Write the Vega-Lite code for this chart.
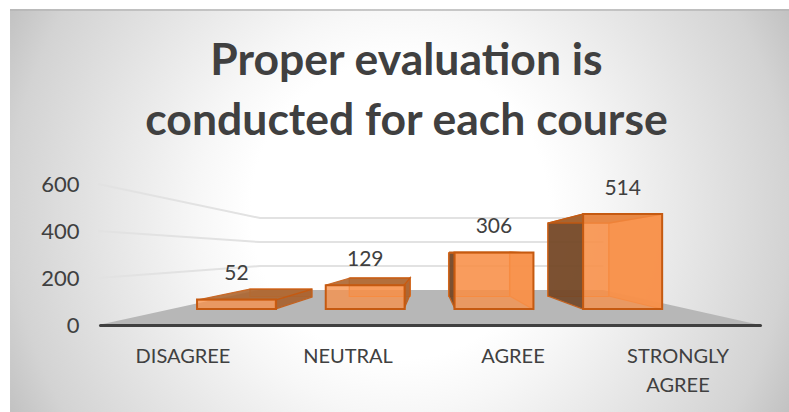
{
"$schema":"https://vega.github.io/schema/vega-lite/v6.json",
"width":789,"height":412,"autosize":"none","padding":0,"background":"#ffffff",
"title":{"text":["Proper evaluation is","conducted for each course"],"font":"Lato","fontWeight":"bold","fontSize":44.5,"color":"#404040","anchor":"middle","frame":"group","baseline":"top","lineHeight":60,"offset":-40,"dx":12,"dy":104},
"datasets":{
"answers":[{"answer":"DISAGREE","count":52},{"answer":"NEUTRAL","count":129},{"answer":"AGREE","count":306},{"answer":"STRONGLY AGREE","count":514}],
"frame":[{"a":0,"b":1,"c":0,"d":1}],
"margins":[{"a":0,"b":1,"c":0,"d":0.0218},{"a":0,"b":0.0127,"c":0,"d":1}],
"topEdge":[{"a":0.0127,"b":1,"c":0.0218,"d":0.0267}],
"floor":[{"lvl":0,"l":-0.01,"r":4.0},{"lvl":149,"l":0.96,"r":3.05}],
"grid":[
{"g":"600","p":-0.012,"lvl":600},{"g":"600","p":0.97,"lvl":455},{"g":"600","p":3.05,"lvl":455},
{"g":"400","p":-0.012,"lvl":400},{"g":"400","p":0.97,"lvl":353},{"g":"400","p":3.05,"lvl":353},
{"g":"200","p":-0.012,"lvl":200},{"g":"200","p":0.97,"lvl":251},{"g":"200","p":3.05,"lvl":251}],
"sides":[
{"id":"d-r","shade":"shadow","p":1.061,"lo":68,"hi":106},{"id":"d-r","shade":"shadow","p":1.285,"lo":119,"hi":153},
{"id":"n-r","shade":"shadow","p":1.842,"lo":68,"hi":166},{"id":"n-r","shade":"shadow","p":1.879,"lo":128,"hi":200},
{"id":"a-l","shade":"dark","p":2.115,"lo":123,"hi":306},{"id":"a-l","shade":"dark","p":2.152,"lo":68,"hi":306},
{"id":"a-r","shade":"lit","p":2.485,"lo":123,"hi":310},{"id":"a-r","shade":"lit","p":2.624,"lo":68,"hi":306},
{"id":"s-l","shade":"dark","p":2.715,"lo":123,"hi":434},{"id":"s-l","shade":"dark","p":2.927,"lo":68,"hi":472},
{"id":"s-r","shade":"lit","p":3.085,"lo":123,"hi":434},{"id":"s-r","shade":"lit","p":3.406,"lo":68,"hi":472}],
"tops":[
{"id":"d","lvl":106,"l":0.588,"r":1.061},{"id":"d","lvl":153,"l":0.909,"r":1.285},
{"id":"n","lvl":170,"l":1.37,"r":1.842},{"id":"n","lvl":200,"l":1.515,"r":1.879},
{"id":"a","lvl":306,"l":2.152,"r":2.624},{"id":"a","lvl":310,"l":2.115,"r":2.485},
{"id":"s","lvl":434,"l":2.715,"r":3.085},{"id":"s","lvl":472,"l":2.927,"r":3.406}]
},
"layer":[
{"data":{"name":"frame"},"mark":{"type":"rect","clip":true,"color":{"gradient":"radial","x1":0.5,"y1":0.5,"r1":0,"x2":0.5,"y2":0.5,"r2":0.5625,"stops":[{"offset":0,"color":"#ffffff"},{"offset":0.34,"color":"#ffffff"},{"offset":0.46,"color":"#f7f7f7"},{"offset":0.89,"color":"#d3d3d3"},{"offset":1,"color":"#c2c2c2"}]}},
 "encoding":{"x":{"field":"a","type":"quantitative","axis":null,"scale":{"domain":[0,1],"range":[10,789]}},"x2":{"field":"b"},"y":{"field":"c","type":"quantitative","axis":null,"scale":{"domain":[0,1],"range":[-179,600]}},"y2":{"field":"d"}}},
{"data":{"name":"margins"},"mark":{"type":"rect","color":"#ffffff"},
 "encoding":{"x":{"field":"a","type":"quantitative","axis":null,"scale":{"domain":[0,1],"range":[0,789]}},"x2":{"field":"b"},"y":{"field":"c","type":"quantitative","axis":null,"scale":{"domain":[0,1],"range":[0,412]}},"y2":{"field":"d"}}},
{"data":{"name":"topEdge"},"mark":{"type":"rect","color":"#b4b4b4","opacity":0.7},
 "encoding":{"x":{"field":"a","type":"quantitative","axis":null,"scale":{"domain":[0,1],"range":[0,789]}},"x2":{"field":"b"},"y":{"field":"c","type":"quantitative","axis":null,"scale":{"domain":[0,1],"range":[0,412]}},"y2":{"field":"d"}}},
{"data":{"name":"grid"},"mark":{"type":"line","color":"#e2e2e2","strokeWidth":2},
 "encoding":{"detail":{"field":"g"},"x":{"field":"p","type":"quantitative","axis":null,"scale":{"domain":[0,4],"range":[100,760]}},"y":{"field":"lvl","type":"quantitative","axis":null,"scale":{"domain":[0,600],"range":[325,184]}}}},
{"data":{"name":"floor"},"mark":{"type":"area","orient":"horizontal","color":"#b7b7b7"},
 "encoding":{"y":{"field":"lvl","type":"quantitative","axis":null,"scale":{"domain":[0,600],"range":[325,184]}},"x":{"field":"l","type":"quantitative","axis":null,"scale":{"domain":[0,4],"range":[100,760]}},"x2":{"field":"r"}}},
{"data":{"name":"answers"},"mark":{"type":"bar","color":"#f08a45","fillOpacity":0.5,"stroke":"#ee8236","strokeWidth":1.2},
 "encoding":{"x":{"field":"answer","type":"nominal","sort":null,"axis":null,"scale":{"range":[230.8,628],"paddingInner":0.386,"paddingOuter":0.193}},"y":{"field":"count","type":"quantitative","axis":null,"scale":{"domain":[0,600],"range":[296.5,210.7]}},"y2":{"datum":0}}},
{"data":{"name":"sides"},"mark":{"type":"area","strokeWidth":1.3},
 "encoding":{"detail":{"field":"id"},"color":{"field":"shade","type":"nominal","legend":null,"scale":{"domain":["shadow","dark","lit"],"range":["#a8602c","#6f4526","#f29a5e"]}},"stroke":{"field":"shade","type":"nominal","legend":null,"scale":{"domain":["shadow","dark","lit"],"range":["#c55a11","#c55a11","#ee8236"]}},"opacity":{"value":0.9},"x":{"field":"p","type":"quantitative","axis":null,"scale":{"domain":[0,4],"range":[100,760]}},"y":{"field":"hi","type":"quantitative","axis":null,"scale":{"domain":[0,600],"range":[325,184]}},"y2":{"field":"lo"}}},
{"data":{"name":"tops"},"mark":{"type":"area","orient":"horizontal","color":"#ad6630","opacity":0.9,"stroke":"#c55a11","strokeWidth":1.3},
 "encoding":{"detail":{"field":"id"},"y":{"field":"lvl","type":"quantitative","axis":null,"scale":{"domain":[0,600],"range":[325,184]}},"x":{"field":"l","type":"quantitative","axis":null,"scale":{"domain":[0,4],"range":[100,760]}},"x2":{"field":"r"}}},
{"data":{"name":"answers"},"mark":{"type":"bar","color":"#f98f45","fillOpacity":0.75,"stroke":"#c55a11","strokeWidth":2},
 "encoding":{"x":{"field":"answer","type":"nominal","sort":null,"axis":null,"scale":{"range":[172.2,687],"paddingInner":0.386,"paddingOuter":0.193}},"y":{"field":"count","type":"quantitative","axis":null,"scale":{"domain":[0,600],"range":[309,198]}},"y2":{"datum":0}}},
{"data":{"name":"answers"},"mark":{"type":"text","font":"Lato","fontSize":21,"color":"#404040","dy":-25},
 "encoding":{"text":{"field":"count","type":"quantitative"},"x":{"field":"answer","type":"nominal","sort":null,"axis":null,"scale":{"range":[172.2,687],"paddingInner":0.386,"paddingOuter":0.193}},"y":{"field":"count","type":"quantitative","axis":null,"scale":{"domain":[0,600],"range":[309,198]}}}},
{"data":{"name":"answers"},"mark":{"type":"point","opacity":0},
 "encoding":{
 "x":{"field":"answer","type":"nominal","sort":null,"title":null,"scale":{"range":[100,760],"paddingInner":0,"paddingOuter":0},
  "axis":{"orient":"bottom","offset":-87,"zindex":1,"ticks":false,"domainColor":"#404040","domainWidth":3,"domainCap":"round","labelAngle":0,"labelFont":"Lato","labelFontSize":20,"labelColor":"#404040","labelPadding":21,"labelBaseline":"top","labelLineHeight":29,"labelExpr":"datum.value == 'STRONGLY AGREE' ? ['STRONGLY','AGREE'] : datum.value","grid":false}},
 "y":{"field":"count","type":"quantitative","title":null,"scale":{"domain":[0,600],"range":[325,184]},
  "axis":{"orient":"left","offset":-90,"zindex":1,"values":[0,200,400,600],"ticks":false,"domain":false,"grid":false,"labelFont":"Lato","labelFontSize":22,"labelColor":"#404040","labelPadding":11}}}}
],
"resolve":{"scale":{"x":"independent","y":"independent","color":"independent","stroke":"independent"}},
"config":{"view":{"stroke":null}}
}
